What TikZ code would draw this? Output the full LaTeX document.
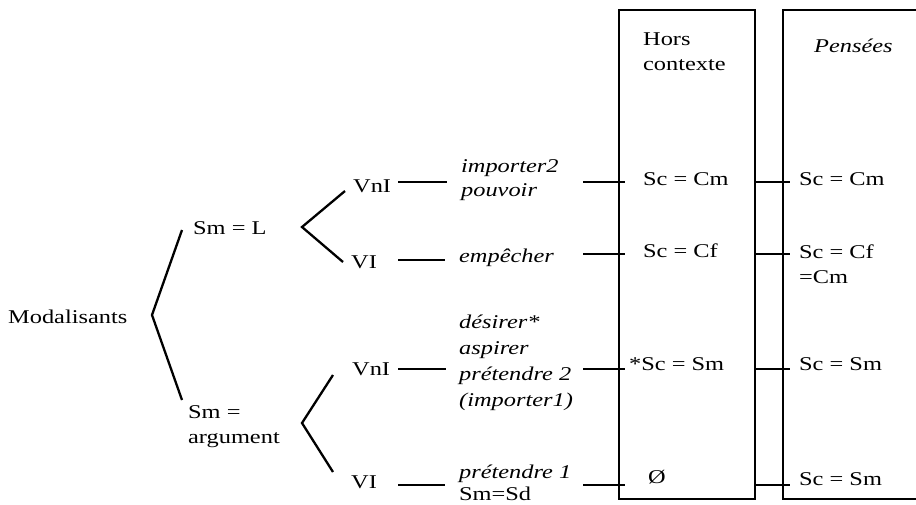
\documentclass[tikz,border=0pt]{standalone}
\usepackage{fontspec}
\setmainfont{Liberation Serif}[FakeStretch=1.25]
\begin{document}
\begin{tikzpicture}[x=1pt, y=-1pt, line width=2.3pt,
  every node/.style={inner sep=0pt, anchor=base west, font=\fontsize{19.5}{25}\selectfont},
  it/.style={font=\fontsize{19.5}{25}\selectfont\itshape},
  column/.style={draw, anchor=north west, minimum height=489pt}]
\useasboundingbox (0,0) rectangle (916,504);

% the two columns (the second one runs on past the right margin)
\node[column, minimum width=136pt] (hc) at (618,8.5) {};
\node[column, minimum width=220pt] (pe) at (782,8.5) {};
\node (hors) at (642,45) {Hors};
\node (ctx)  at (642,70) {contexte};
\node[it] (pens) at (813,52) {Pensées};

% tree labels
\node (mod) at (7,323) {Modalisants};
\node (sml) at (192,234) {Sm = L};
\node (sma) at (187,418) {Sm =};
\node (smb) at (187,443) {argument};
\node (vnA) at (352,192) {VnI};
\node (viA) at (350,268) {VI};
\node (vnB) at (351,375) {VnI};
\node (viB) at (350,488) {VI};

% verbs
\node[it] (w1a) at (460,172) {importer2};
\node[it] (w1b) at (460,196) {pouvoir};
\node[it] (w2)  at (458,262) {empêcher};
\node[it] (w3a) at (458,328) {désirer*};
\node[it] (w3b) at (458,354) {aspirer};
\node[it] (w3c) at (458,380) {prétendre 2};
\node[it] (w3d) at (458,406) {(importer1)};
\node[it] (w4a) at (458,478) {prétendre 1};
\node     (w4b) at (458,500) {Sm=Sd};

% column entries
\node (h1) at (642,185) {Sc = Cm};
\node (h2) at (642,257) {Sc = Cf};
\node (h3) at (628,370) {*Sc = Sm};
\node (h4) at (647,483) {Ø};
\node (p1) at (798,185) {Sc = Cm};
\node (p2a) at (798,258) {Sc = Cf};
\node (p2b) at (798,283) {=Cm};
\node (p3) at (798,370) {Sc = Sm};
\node (p4) at (798,485) {Sc = Sm};

% brackets
\coordinate (b0) at (152,315);
\coordinate (b0t) at (182,230);
\coordinate (b0b) at (182,400);
\coordinate (b1) at (302,227);
\coordinate (b1t) at (345,191);
\coordinate (b1b) at (343,262);
\coordinate (b2) at (302,423);
\coordinate (b2t) at (333,375);
\coordinate (b2b) at (333,472);
\draw (b0t) -- (b0) -- (b0b);
\draw (b1t) -- (b1) -- (b1b);
\draw (b2t) -- (b2) -- (b2b);

% dashes from the verb classes to the verbs
\coordinate (dA) at (398,182);
\coordinate (eA) at (447,182);
\coordinate (dB) at (398,260);
\coordinate (eB) at (445,260);
\coordinate (dC) at (398,369);
\coordinate (eC) at (446,369);
\coordinate (dD) at (398,485);
\coordinate (eD) at (445,485);
\draw (dA) -- (eA);
\draw (dB) -- (eB);
\draw (dC) -- (eC);
\draw (dD) -- (eD);

% rows crossing the columns
\foreach \r/\y in {r1/182, r2/254, r3/369, r4/485} {
  \coordinate (\r) at (0,\y);
  \draw ([xshift=-35pt]hc.west |- \r) -- ([xshift=7pt]hc.west |- \r);
  \draw ([xshift=-2pt]hc.east |- \r) -- ([xshift=8pt]pe.west |- \r);
}
\end{tikzpicture}
\end{document}
